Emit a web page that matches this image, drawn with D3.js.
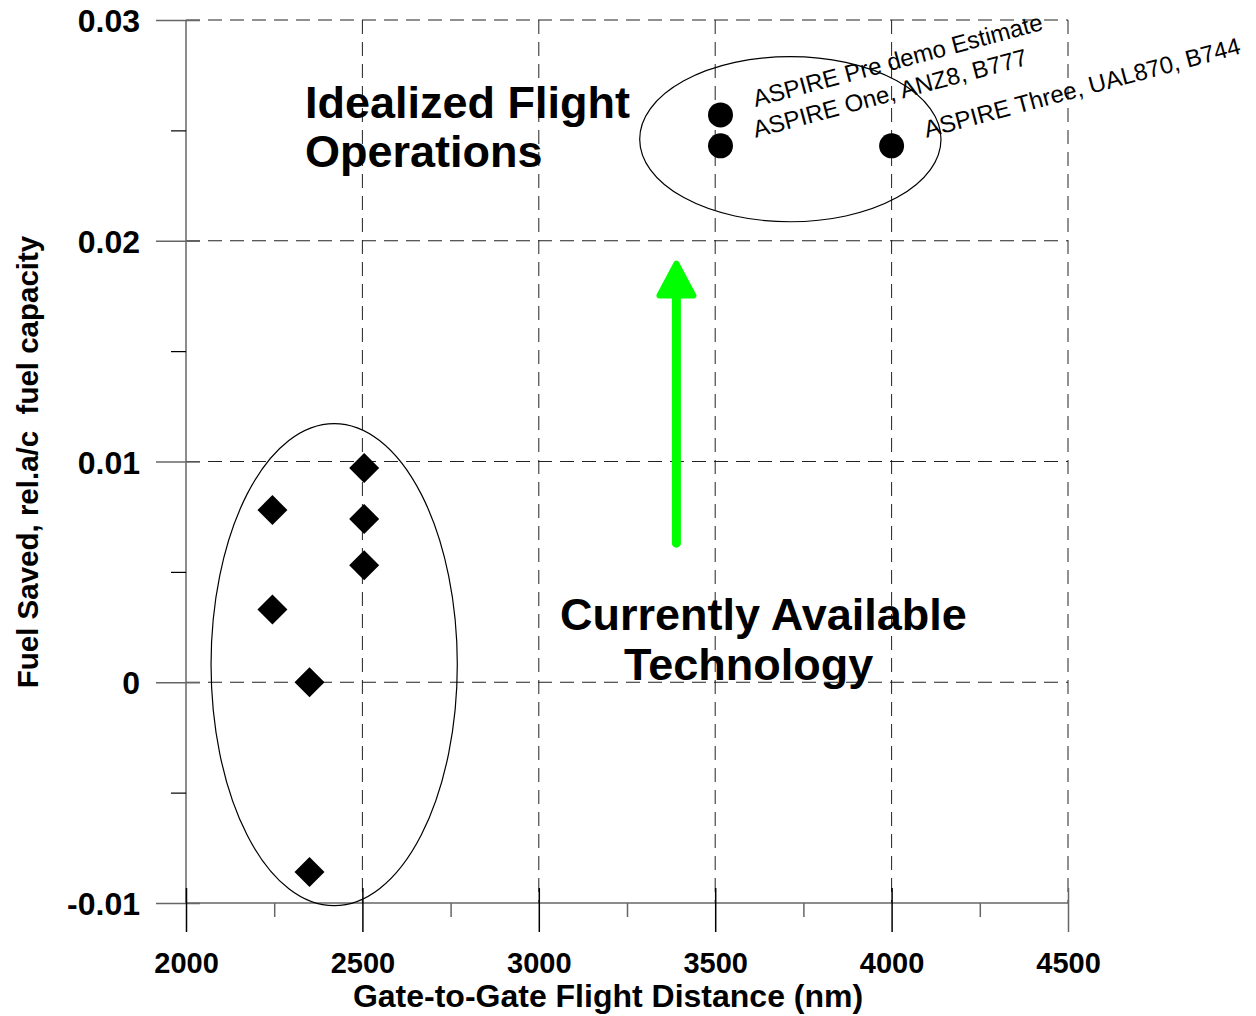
<!DOCTYPE html>
<html>
<head>
<meta charset="utf-8">
<script src="https://cdn.jsdelivr.net/npm/d3@7"></script>
<style>
  html, body { margin: 0; padding: 0; background: #fff; }
  svg { display: block; font-family: "Liberation Sans", Arial, Helvetica, sans-serif; }
</style>
</head>
<body>
<svg id="chart" width="1256" height="1016"></svg>
<script>
// Fuel saved per flight (fraction of aircraft fuel capacity) vs. gate-to-gate distance
const currentDist  = [2505, 2245, 2505, 2505, 2245, 2350, 2350];
const currentSaved = [0.0097, 0.0078, 0.0074, 0.0053, 0.0033, 0.0000, -0.0086];

const aspireDist   = [3515, 3515, 4000];
const aspireSaved  = [0.0257, 0.0243, 0.0243];
const aspireNames  = ["ASPIRE Pre demo Estimate", "ASPIRE One, ANZ8, B777", "ASPIRE Three, UAL870, B744"];

const xMajor = [2000, 2500, 3000, 3500, 4000, 4500];
const xMinor = [2250, 2750, 3250, 3750, 4250];
const yMajor = [-0.01, 0, 0.01, 0.02, 0.03];
const yMinor = [-0.005, 0.005, 0.015, 0.025];
const yTickText = ["-0.01", "0", "0.01", "0.02", "0.03"];

// grouping ellipses: [centre x, centre y, radius x, radius y] in data units
const idealEllipse  = [3713, 0.0246, 427, 0.00374];
const currentEllipse = [2420, 0.0008, 349, 0.01092];

// improvement arrow: x, start value, tip value
const arrowX = 3390, arrowFrom = 0.0063, arrowTo = 0.0191;

const svg = d3.select("#chart");
const plotLeft = 186, plotRight = 1068, plotTop = 20, plotBottom = 903;

const x = d3.scaleLinear().domain([2000, 4500]).range([plotLeft, plotRight]);
const y = d3.scaleLinear().domain([-0.01, 0.03]).range([plotBottom, plotTop]);

const gridColor = "#222";
const axisColor = "#666";

// dashed grid
const grid = svg.append("g").attr("stroke", gridColor).attr("stroke-width", 1)
  .attr("stroke-dasharray", "14,8").attr("fill", "none");
grid.selectAll("line.h").data(yMajor.filter(v => v > -0.01)).join("line")
  .attr("class", "h")
  .attr("x1", plotLeft).attr("x2", plotRight)
  .attr("y1", d => y(d)).attr("y2", d => y(d));
grid.selectAll("line.v").data(xMajor.filter(v => v > 2000)).join("line")
  .attr("class", "v")
  .attr("x1", d => x(d)).attr("x2", d => x(d))
  .attr("y1", plotTop).attr("y2", plotBottom);

// axis lines
svg.append("line").attr("x1", plotLeft).attr("x2", plotLeft).attr("y1", plotTop).attr("y2", plotBottom)
  .attr("stroke", axisColor).attr("stroke-width", 1.5);
svg.append("line").attr("x1", plotLeft).attr("x2", plotRight).attr("y1", plotBottom).attr("y2", plotBottom)
  .attr("stroke", axisColor).attr("stroke-width", 1.5);

// y axis: major ticks cross the axis, minor ticks point outward
const yAxis = d3.axisLeft(y).tickValues(yMajor).tickSize(44).tickPadding(16)
  .tickFormat((d, i) => yTickText[i]);
const gy = svg.append("g").attr("transform", `translate(${plotLeft + 14},0)`).call(yAxis);
gy.select(".domain").remove();
gy.selectAll(".tick line").attr("stroke", axisColor).attr("stroke-width", 1.5);
gy.selectAll(".tick text").attr("font-size", 32).attr("font-weight", "bold")
  .attr("fill", "#000").attr("font-family", "Liberation Sans, Arial, sans-serif")
  .attr("dy", "0.36em");

const gyMinor = svg.append("g").attr("transform", `translate(${plotLeft},0)`)
  .call(d3.axisLeft(y).tickValues(yMinor).tickSize(15).tickFormat(""));
gyMinor.select(".domain").remove();
gyMinor.selectAll(".tick line").attr("stroke", "#000").attr("stroke-width", 1.2);

// x axis
const xAxis = d3.axisBottom(x).tickValues(xMajor).tickSize(44).tickPadding(20)
  .tickFormat(d3.format("d"));
const gx = svg.append("g").attr("transform", `translate(0,${plotBottom - 15})`).call(xAxis);
gx.select(".domain").remove();
gx.selectAll(".tick line").attr("stroke", d => d === 4500 ? axisColor : "#000").attr("stroke-width", 1.5);
gx.selectAll(".tick text").attr("font-size", 29).attr("font-weight", "bold")
  .attr("fill", "#000").attr("font-family", "Liberation Sans, Arial, sans-serif");

const gxMinor = svg.append("g").attr("transform", `translate(0,${plotBottom})`)
  .call(d3.axisBottom(x).tickValues(xMinor).tickSize(14).tickFormat(""));
gxMinor.select(".domain").remove();
gxMinor.selectAll(".tick line").attr("stroke", axisColor).attr("stroke-width", 1.5);

// axis titles
svg.append("text")
  .attr("x", 608).attr("y", 1007)
  .attr("text-anchor", "middle")
  .attr("font-size", 32).attr("font-weight", "bold")
  .text("Gate-to-Gate Flight Distance (nm)");

svg.append("text")
  .attr("transform", "translate(38,462) rotate(-90)")
  .attr("text-anchor", "middle")
  .attr("font-size", 29.5).attr("font-weight", "bold")
  .style("white-space", "pre")
  .text("Fuel Saved, rel.a/c  fuel capacity");

// grouping ellipses
function drawEllipse(e) {
  svg.append("ellipse")
    .attr("cx", x(e[0])).attr("cy", y(e[1]))
    .attr("rx", x(e[0] + e[2]) - x(e[0]))
    .attr("ry", y(e[1]) - y(e[1] + e[3]))
    .attr("fill", "none").attr("stroke", "#000").attr("stroke-width", 1.2);
}
drawEllipse(idealEllipse);
drawEllipse(currentEllipse);

// current-technology flights (diamonds)
const diamond = d3.symbol().type(d3.symbolSquare).size(450);
svg.append("g").selectAll("path")
  .data(d3.zip(currentDist, currentSaved)).join("path")
  .attr("d", diamond)
  .attr("transform", d => `translate(${x(d[0])},${y(d[1])}) rotate(45)`)
  .attr("fill", "#000");

// ASPIRE flights (circles) with slanted labels
const aspire = d3.zip(aspireDist, aspireSaved, aspireNames);
svg.append("g").selectAll("circle")
  .data(aspire).join("circle")
  .attr("cx", d => x(d[0])).attr("cy", d => y(d[1]))
  .attr("r", 12.5).attr("fill", "#000");
svg.append("g").selectAll("text")
  .data(aspire).join("text")
  .attr("transform", d => `translate(${x(d[0]) + 35},${y(d[1]) - 8}) rotate(-15)`)
  .attr("font-size", 24)
  .text(d => d[2]);

// green arrow
const ax = x(arrowX), ay0 = y(arrowFrom), ay1 = y(arrowTo);
const green = "#00ff00";
svg.append("line")
  .attr("x1", ax).attr("x2", ax).attr("y1", ay0).attr("y2", ay1 + 30)
  .attr("stroke", green).attr("stroke-width", 9).attr("stroke-linecap", "round");
svg.append("path")
  .attr("d", `M${ax},${ay1 + 3} L${ax + 17},${ay1 + 35} L${ax - 17},${ay1 + 35} Z`)
  .attr("fill", green).attr("stroke", green).attr("stroke-width", 6)
  .attr("stroke-linejoin", "round");

// region captions
const cap = svg.append("g").attr("font-size", 45).attr("font-weight", "bold").attr("fill", "#000");
cap.append("text").attr("x", 305).attr("y", 118).text("Idealized Flight");
cap.append("text").attr("x", 305).attr("y", 167).text("Operations");
cap.append("text").attr("x", 560).attr("y", 630).text("Currently Available");
cap.append("text").attr("x", 624).attr("y", 680).text("Technology");
</script>
</body>
</html>
